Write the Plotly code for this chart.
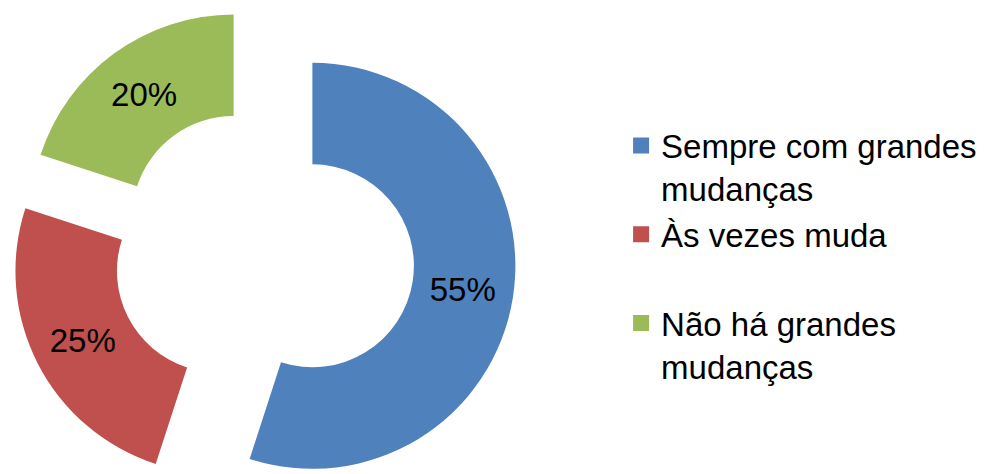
import math
import plotly.graph_objects as go

# ---- data ----
labels = ["Sempre com grandes mudanças", "Às vezes muda", "Não há grandes mudanças"]
legend_names = ["Sempre com grandes<br>mudanças", "Às vezes muda<br> ", "Não há grandes<br>mudanças"]
values = [55, 25, 20]
colors = ["#4F81BD", "#C0504D", "#9BBB59"]

# ---- layout parameters (pixels) ----
W, H = 989, 474
R = 203          # outer radius of the ring
HOLE = 0.5
EXPLODE = 50     # distance each slice is pulled out
CX, CY = 263, 258
FONT = "Liberation Sans, Arial, sans-serif"

total = sum(values)
fig = go.Figure()
cum = 0.0
for i, v in enumerate(values):
    mid = (cum + v / 2) / total * 2 * math.pi
    cum += v
    cx = CX + EXPLODE * math.sin(mid)
    cy = CY - EXPLODE * math.cos(mid)
    cx = min(max(cx, R), W - R)
    cy = min(max(cy, R), H - R)
    x0 = max(0.0, (cx - R) / W)
    x1 = min(1.0, (cx + R) / W)
    y0 = max(0.0, (H - cy - R) / H)
    y1 = min(1.0, (H - cy + R) / H)
    slice_colors = [c if j == i else "rgba(0,0,0,0)" for j, c in enumerate(colors)]
    texts = [f"{values[j] / total * 100:.0f}%" if j == i else "" for j in range(len(values))]
    fig.add_trace(go.Pie(
        labels=labels, values=values, sort=False, direction="clockwise", rotation=0,
        hole=HOLE, marker=dict(colors=slice_colors, line=dict(width=0)),
        text=texts, textinfo="text", textposition="inside",
        insidetextorientation="horizontal",
        textfont=dict(size=33, color="#000000", family=FONT),
        domain=dict(x=[x0, x1], y=[y0, y1]),
        showlegend=False, hoverinfo="skip",
    ))

for name, c in zip(legend_names, colors):
    fig.add_trace(go.Scatter(
        x=[None], y=[None], mode="markers", name=name,
        marker=dict(symbol="square", size=16, color=c),
        showlegend=True, hoverinfo="skip",
    ))

fig.update_layout(
    width=W, height=H,
    margin=dict(l=0, r=0, t=0, b=0),
    paper_bgcolor="white", plot_bgcolor="white",
    xaxis=dict(visible=False), yaxis=dict(visible=False),
    font=dict(family=FONT, size=33, color="#000000"),
    legend=dict(x=0.628, xanchor="left", y=0.752, yanchor="top",
                valign="top", bgcolor="rgba(0,0,0,0)",
                font=dict(family=FONT, size=33, color="#000000")),
    showlegend=True,
)

fig.write_html("out.html", config={"displayModeBar": False},
               post_script="document.body.style.margin='0';document.body.style.overflow='hidden';")
